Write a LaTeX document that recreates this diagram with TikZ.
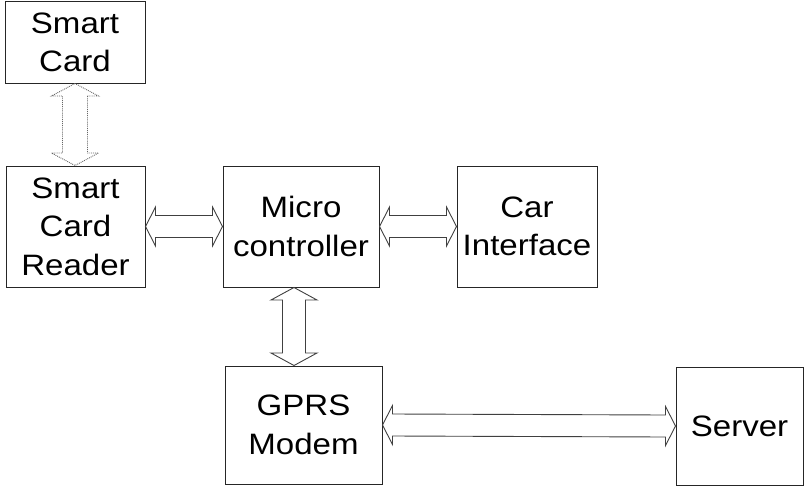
\documentclass[tikz,border=0pt]{standalone}
\usepackage{fontspec}
\setmainfont[FakeStretch=1.12]{Liberation Sans}
\usetikzlibrary{calc}
\newcommand\hdarrow[3][]{%
 \draw[conn,#1] (#2.east) -- ++(10,-19.5) -- ++(0,8.5) -- ($(#3.west)+(-10,-11)$) -- ++(0,-8.5) -- (#3.west) -- ++(-10,19.5) -- ++(0,-8.5) -- ($(#2.east)+(10,11)$) -- ++(0,8.5) -- cycle;}
\newcommand\vdarrow[5][]{% #2 top, #3 bottom, #4 head half, #5 shaft half
 \draw[conn,#1] (#2) -- ++(-#4,12.5) -- ++({#4-#5},0) -- ($(#3)+(-#5,-12.5)$) -- ++({#5-#4},0) -- (#3) -- ++(#4,-12.5) -- ++({#5-#4},0) -- ($(#2)+(#5,12.5)$) -- ++({#4-#5},0) -- cycle;}
\begin{document}
\begin{tikzpicture}[x=1pt,y=-1pt,
  box/.style={draw=black!85, line width=1pt, inner sep=0pt, align=center,
    font=\fontsize{29.5}{38.5}\selectfont},
  conn/.style={draw=black!75, line width=0.9pt, line join=miter}]
\useasboundingbox (0,0) rectangle (805,487);
\node[box, minimum width=140, minimum height=81] (sc) at (75,42.5) {Smart\\Card};
\node[box, minimum width=139, minimum height=121] (scr) at (75.5,226.5) {Smart\\Card\\Reader};
\node[box, minimum width=156, minimum height=121] (mc) at (301,226.5) {Micro\\controller};
\node[box, minimum width=140, minimum height=121] (car) at (527,226.5) {Car\\Interface};
\node[box, minimum width=157, minimum height=118] (gprs) at (303.5,425) {GPRS\\Modem};
\node[box, minimum width=127, minimum height=118] (srv) at (739.5,426) {Server};
\hdarrow{scr}{mc}
\hdarrow{mc}{car}
\hdarrow{gprs}{srv}
\coordinate (v1) at ([xshift=-7pt]mc.south);
\coordinate (v2) at (v1 |- gprs.north);
\vdarrow{v1}{v2}{23}{11.5}
\coordinate (d1) at (sc.south);
\coordinate (d2) at (d1 |- scr.north);
\vdarrow[densely dotted, draw=black!60]{d1}{d2}{23.5}{12.5}
\end{tikzpicture}
\end{document}
